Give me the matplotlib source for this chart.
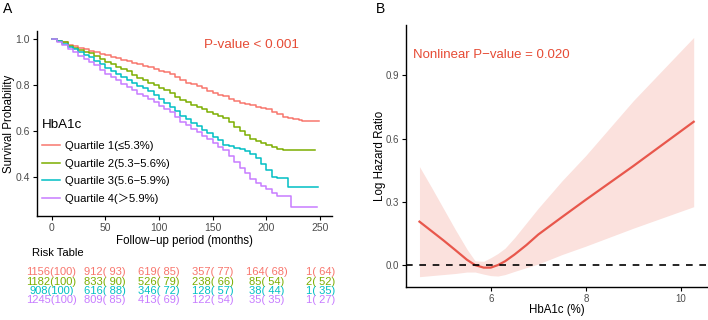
import matplotlib
matplotlib.use("Agg")
import matplotlib.pyplot as plt
import matplotlib.transforms as mtransforms

plt.rcParams['font.family'] = ['Liberation Sans', 'Noto Sans CJK SC', 'DejaVu Sans']

# ---- Panel A: Kaplan-Meier curves by HbA1c quartile ----
time_q1 = [0, 5, 10, 15, 20, 25, 30, 35, 40, 45, 50, 55, 60, 65, 70, 75, 80, 85, 90, 95, 100, 105, 110, 115,
           120, 125, 130, 135, 140, 145, 150, 155, 160, 165, 170, 175, 180, 185, 190, 195, 200, 205, 210, 215,
           220, 225, 230, 233, 249]
surv_q1 = [1.0, 0.993, 0.985, 0.975, 0.968, 0.96, 0.955, 0.95, 0.942, 0.935, 0.93, 0.922, 0.916, 0.91, 0.903,
           0.895, 0.89, 0.884, 0.877, 0.87, 0.862, 0.855, 0.846, 0.835, 0.822, 0.81, 0.804, 0.795, 0.786, 0.775,
           0.766, 0.757, 0.75, 0.74, 0.73, 0.722, 0.718, 0.712, 0.706, 0.70, 0.694, 0.684, 0.672, 0.661, 0.655,
           0.652, 0.648, 0.644, 0.644]

time_q2 = [0, 5, 10, 15, 20, 25, 30, 35, 40, 45, 50, 55, 60, 65, 70, 75, 80, 85, 90, 95, 100, 105, 110, 115,
           120, 125, 130, 135, 140, 145, 150, 155, 160, 165, 170, 175, 180, 185, 190, 195, 200, 205, 210, 213,
           215, 245]
surv_q2 = [1.0, 0.992, 0.985, 0.971, 0.962, 0.952, 0.945, 0.938, 0.925, 0.912, 0.902, 0.89, 0.878, 0.868, 0.859,
           0.845, 0.832, 0.82, 0.81, 0.798, 0.788, 0.776, 0.764, 0.748, 0.735, 0.724, 0.712, 0.702, 0.695, 0.683,
           0.672, 0.665, 0.658, 0.64, 0.618, 0.598, 0.58, 0.566, 0.556, 0.545, 0.538, 0.528, 0.522, 0.519, 0.516,
           0.516]

time_q3 = [0, 5, 10, 15, 20, 25, 30, 35, 40, 45, 50, 55, 60, 65, 70, 75, 80, 85, 90, 95, 100, 105, 110, 115,
           120, 125, 130, 135, 140, 145, 150, 155, 160, 165, 170, 175, 180, 185, 190, 195, 200, 205, 210, 220,
           248]
surv_q3 = [1.0, 0.99, 0.98, 0.966, 0.955, 0.942, 0.932, 0.92, 0.905, 0.89, 0.874, 0.86, 0.848, 0.835, 0.82,
           0.81, 0.796, 0.787, 0.772, 0.757, 0.738, 0.722, 0.703, 0.685, 0.665, 0.65, 0.635, 0.62, 0.603, 0.59,
           0.575, 0.558, 0.54, 0.532, 0.526, 0.52, 0.514, 0.50, 0.48, 0.455, 0.43, 0.40, 0.393, 0.356, 0.356]

time_q4 = [0, 5, 10, 15, 20, 25, 30, 35, 40, 45, 50, 55, 60, 65, 70, 75, 80, 85, 90, 95, 100, 105, 110, 115,
           120, 125, 130, 135, 140, 145, 150, 155, 160, 165, 170, 175, 180, 185, 190, 195, 200, 205, 210, 223,
           247]
surv_q4 = [1.0, 0.985, 0.972, 0.956, 0.945, 0.925, 0.912, 0.90, 0.885, 0.866, 0.848, 0.835, 0.82, 0.806, 0.79,
           0.776, 0.762, 0.75, 0.738, 0.725, 0.71, 0.695, 0.682, 0.66, 0.64, 0.625, 0.61, 0.595, 0.578, 0.563,
           0.548, 0.53, 0.516, 0.49, 0.465, 0.44, 0.415, 0.39, 0.372, 0.358, 0.345, 0.33, 0.317, 0.269, 0.269]

quartile_labels = ['Quartile 1(≤5.3%)', 'Quartile 2(5.3−5.6%)', 'Quartile 3(5.6−5.9%)', 'Quartile 4(＞5.9%)']
quartile_colors = ['#F8766D', '#7CAE00', '#00BFC4', '#C77CFF']

risk_times = [0, 50, 100, 150, 200, 250]
risk_q1 = ['1156(100)', '912( 93)', '619( 85)', '357( 77)', '164( 68)', '1( 64)']
risk_q2 = ['1182(100)', '833( 90)', '526( 79)', '238( 66)', '85( 54)', '2( 52)']
risk_q3 = ['908(100)', '616( 88)', '346( 72)', '128( 57)', '38( 44)', '1( 35)']
risk_q4 = ['1245(100)', '809( 85)', '413( 69)', '122( 54)', '35( 35)', '1( 27)']

# ---- Panel B: restricted cubic spline ----
hba1c = [4.5, 4.75, 5.0, 5.25, 5.5, 5.67, 5.85, 6.0, 6.15, 6.3, 6.5, 6.75, 7.0, 7.5, 8.0, 9.0, 10.27]
log_hr = [0.206, 0.162, 0.118, 0.072, 0.025, 0.0, -0.012, -0.012, 0.0, 0.018, 0.05, 0.095, 0.145, 0.228, 0.31, 0.47, 0.68]
ci_upper = [0.467, 0.37, 0.27, 0.17, 0.075, 0.02, 0.018, 0.035, 0.055, 0.08, 0.13, 0.2, 0.27, 0.4, 0.52, 0.78, 1.08]
ci_lower = [-0.055, -0.05, -0.045, -0.04, -0.033, -0.033, -0.043, -0.05, -0.052, -0.045, -0.03, -0.012, 0.005, 0.05, 0.09, 0.175, 0.277]

W, H = 708, 320
fig = plt.figure(figsize=(W / 100, H / 100), dpi=100)

def px_axes(left, top, right, bottom):
    return fig.add_axes([left / W, 1 - bottom / H, (right - left) / W, (bottom - top) / H])

def style_axes(ax):
    for side in ['top', 'right']:
        ax.spines[side].set_visible(False)
    for side in ['left', 'bottom']:
        ax.spines[side].set_linewidth(1.0)
    ax.tick_params(length=3, width=0.8, labelsize=7.5, labelcolor='#4D4D4D', pad=2)

# Panel A
axA = px_axes(37, 31, 332, 216)
style_axes(axA)
all_times = [time_q1, time_q2, time_q3, time_q4]
all_surv = [surv_q1, surv_q2, surv_q3, surv_q4]
for t, s, lab, col in zip(all_times, all_surv, quartile_labels, quartile_colors):
    axA.step(t, s, where='post', color=col, lw=1.1, label=lab)
axA.set_xlim(-13.5, 261)
axA.set_ylim(0.229, 1.035)
axA.set_xticks([0, 50, 100, 150, 200, 250])
axA.set_yticks([0.4, 0.6, 0.8, 1.0])
axA.set_xlabel('Follow−up period (months)', fontsize=8.3)
axA.xaxis.set_label_coords(0.5, -0.105)
axA.set_ylabel('Survival Probability', fontsize=8.3)
axA.yaxis.set_label_coords(-0.076, 0.5)
axA.text(0.728, 0.924, 'P-value < 0.001', transform=axA.transAxes, color='#E64B35',
         fontsize=9.7, ha='center', va='center')
leg = axA.legend(title='HbA1c', loc='upper left', bbox_to_anchor=(-0.003, 0.555),
                 frameon=False, fontsize=8.1, title_fontsize=9.6, handlelength=1.6,
                 handletextpad=0.5, labelspacing=0.65, borderpad=0, alignment='left')
leg._legend_box.sep = 7.5  # a bit more room under the title

# risk table
blend = mtransforms.blended_transform_factory(axA.transData, fig.transFigure)
fig.text(32 / W, 1 - 252.7 / H, 'Risk Table', fontsize=8.1, ha='left', va='center')
row_y = [272.3, 281.7, 291.0, 300.3]
for rows, col, y in zip([risk_q1, risk_q2, risk_q3, risk_q4], quartile_colors, row_y):
    for t, txt in zip(risk_times, rows):
        axA.text(t, 1 - y / H, txt, transform=blend, color=col, fontsize=8.0,
                 ha='center', va='center', clip_on=False)

fig.text(3 / W, 1 - 9 / H, 'A', fontsize=10, ha='left', va='center')

# Panel B
axB = px_axes(405.7, 25, 707, 287)
style_axes(axB)
axB.fill_between(hba1c, ci_lower, ci_upper, color='#FBE1DD', lw=0)
axB.plot(hba1c, log_hr, color='#E8574C', lw=1.6)
axB.axhline(0, color='black', lw=1.2, ls=(0, (4, 4)))
axB.set_xlim(4.21, 10.55)
axB.set_ylim(-0.104, 1.139)
axB.set_xticks([6, 8, 10])
axB.set_yticks([0.0, 0.3, 0.6, 0.9])
axB.set_yticklabels(['0.0', '0.3', '0.6', '0.9'])
axB.tick_params(labelsize=7)
axB.set_xlabel('HbA1c (%)', fontsize=8.3)
axB.xaxis.set_label_coords(0.5, -0.066)
axB.set_ylabel('Log Hazard Ratio', fontsize=8.3)
axB.yaxis.set_label_coords(-0.064, 0.5)
axB.text(413.3 / W, 1 - 55 / H, 'Nonlinear P−value = 0.020', transform=fig.transFigure,
         color='#E64B35', fontsize=9.5, ha='left', va='center')

fig.text(376 / W, 1 - 9 / H, 'B', fontsize=10, ha='left', va='center')

fig.savefig('out.png', dpi=100)
